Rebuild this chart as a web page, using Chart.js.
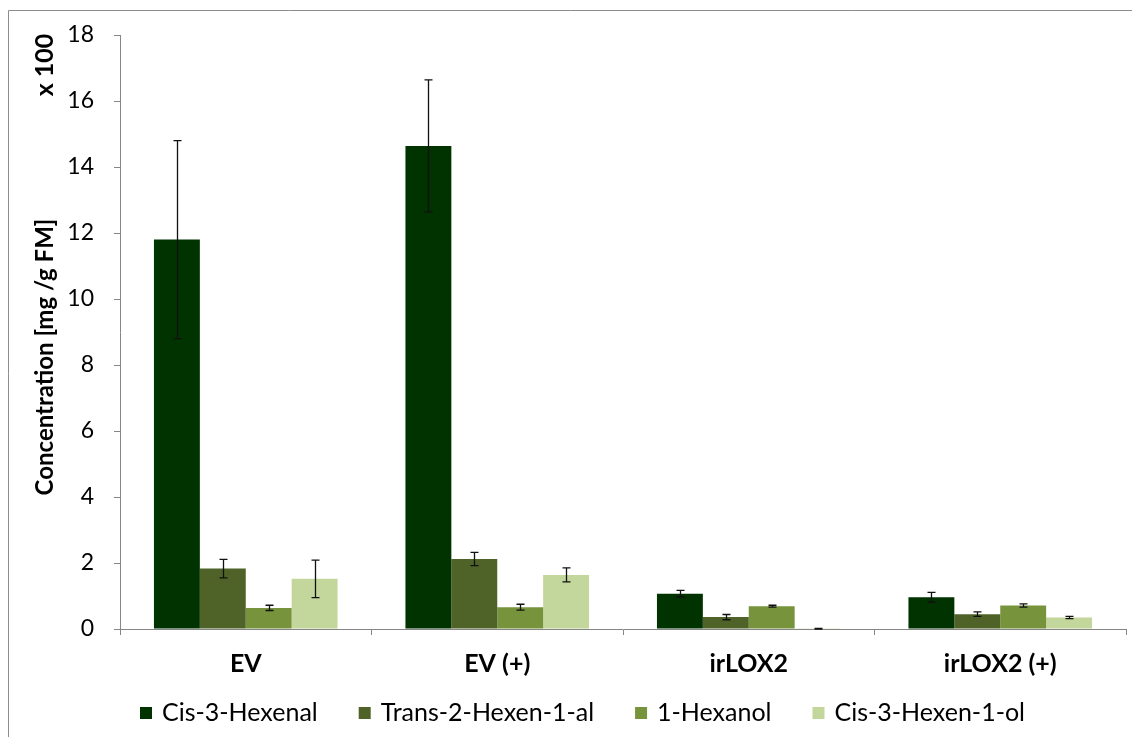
<!DOCTYPE html>
<html>
<head>
<meta charset="utf-8">
<script src="https://cdn.jsdelivr.net/npm/chart.js@4/dist/chart.umd.min.js"></script>
<style>
  html, body { margin: 0; padding: 0; background: #fff; }
  #wrap { position: relative; width: 1132px; height: 737px; }
</style>
</head>
<body>
<div id="wrap"><canvas id="hexChart" width="1132" height="737"></canvas></div>
<script>
const groups = ['EV', 'EV (+)', 'irLOX2', 'irLOX2 (+)'];
const seriesNames = ['Cis-3-Hexenal', 'Trans-2-Hexen-1-al', '1-Hexanol', 'Cis-3-Hexen-1-ol'];
const seriesColors = ['#003300', '#4f6228', '#77933c', '#c3d69b'];

// means (x 100 mg / g FM)
const cisHexenal = [11.8, 14.64, 1.07, 0.96];
const transHexenal = [1.83, 2.12, 0.36, 0.45];
const hexanol = [0.64, 0.66, 0.69, 0.71];
const cisHexenol = [1.52, 1.64, 0.01, 0.35];

// error bars (+/-)
const cisHexenalErr = [3.0, 2.0, 0.1, 0.15];
const transHexenalErr = [0.28, 0.2, 0.08, 0.07];
const hexanolErr = [0.08, 0.09, 0.03, 0.05];
const cisHexenolErr = [0.57, 0.21, 0.01, 0.035];

const yTicks = [0, 2, 4, 6, 8, 10, 12, 14, 16, 18];

const allValues = [cisHexenal, transHexenal, hexanol, cisHexenol];
const allErrors = [cisHexenalErr, transHexenalErr, hexanolErr, cisHexenolErr];

const FONT = 'Lato, "Open Sans", sans-serif';

// Draw the frame, error bars, axis titles and legend
const extras = {
    id: 'extras',
    beforeDraw(chart) {
        const ctx = chart.ctx;
        ctx.save();
        ctx.strokeStyle = '#8c8c8c';
        ctx.lineWidth = 1;
        ctx.beginPath();
        ctx.moveTo(8.5, 737);
        ctx.lineTo(8.5, 10.5);
        ctx.lineTo(1132, 10.5);
        ctx.stroke();
        ctx.restore();
    },
    afterDatasetsDraw(chart) {
        const ctx = chart.ctx;
        const y = chart.scales.y;
        ctx.save();
        ctx.strokeStyle = '#111';
        ctx.lineWidth = 1.3;
        chart.data.datasets.forEach(function (ds, i) {
            const meta = chart.getDatasetMeta(i);
            meta.data.forEach(function (bar, j) {
                const v = ds.data[j];
                const e = allErrors[i][j];
                const top = y.getPixelForValue(v + e);
                const bot = y.getPixelForValue(Math.max(v - e, 0));
                const x = Math.round(bar.x) + 0.5;
                ctx.beginPath();
                ctx.moveTo(x, top);
                ctx.lineTo(x, bot);
                ctx.moveTo(x - 4, top);
                ctx.lineTo(x + 4, top);
                ctx.moveTo(x - 4, bot);
                ctx.lineTo(x + 4, bot);
                ctx.stroke();
            });
        });
        ctx.restore();
    },
    afterDraw(chart) {
        const ctx = chart.ctx;
        ctx.save();
        ctx.fillStyle = '#000';
        ctx.font = 'bold 24px ' + FONT;
        ctx.textAlign = 'center';
        ctx.textBaseline = 'middle';
        ctx.translate(45, 357);
        ctx.rotate(-Math.PI / 2);
        ctx.fillText('Concentration [mg /g FM]', 0, 0);
        ctx.restore();

        ctx.save();
        ctx.fillStyle = '#000';
        ctx.font = 'bold 25px ' + FONT;
        ctx.textAlign = 'center';
        ctx.textBaseline = 'middle';
        ctx.translate(45, 65);
        ctx.rotate(-Math.PI / 2);
        ctx.fillText('x 100', 0, 0);
        ctx.restore();

        // legend
        ctx.save();
        ctx.font = '25px ' + FONT;
        ctx.textBaseline = 'middle';
        let lx = 140;
        const ly = 713;
        chart.data.datasets.forEach(function (ds) {
            ctx.fillStyle = ds.backgroundColor;
            ctx.fillRect(lx, ly - 6, 12, 12);
            ctx.fillStyle = '#000';
            ctx.fillText(ds.label, lx + 22, ly);
            lx += 22 + ctx.measureText(ds.label).width + 41;
        });
        ctx.restore();
    }
};

const datasets = seriesNames.map(function (name, i) {
    return {
        label: name,
        data: allValues[i],
        backgroundColor: seriesColors[i],
        borderWidth: 0,
        barPercentage: 1.0,
        categoryPercentage: 0.73
    };
});

new Chart(document.getElementById('hexChart').getContext('2d'), {
    type: 'bar',
    data: { labels: groups, datasets: datasets },
    options: {
        responsive: false,
        animation: false,
        layout: { padding: { top: 35, right: 6, left: 0, bottom: 0 } },
        plugins: {
            legend: { display: false },
            tooltip: { enabled: false }
        },
        scales: {
            x: {
                grid: { offset: true, drawOnChartArea: false, tickLength: 6, color: '#868686' },
                border: { color: '#868686' },
                ticks: { padding: 14, color: '#000', font: { family: FONT, size: 25, weight: 'bold' } },
                afterFit: function (scale) { scale.height = 108; }
            },
            y: {
                min: 0,
                max: 18,
                afterBuildTicks: function (scale) {
                    scale.ticks = yTicks.map(function (v) { return { value: v }; });
                },
                grid: { drawOnChartArea: false, tickLength: 6, color: '#868686' },
                border: { color: '#868686' },
                ticks: { padding: 20, color: '#000', font: { family: FONT, size: 23 } },
                afterFit: function (scale) { scale.width = 120; }
            }
        }
    },
    plugins: [extras]
});
</script>
</body>
</html>
